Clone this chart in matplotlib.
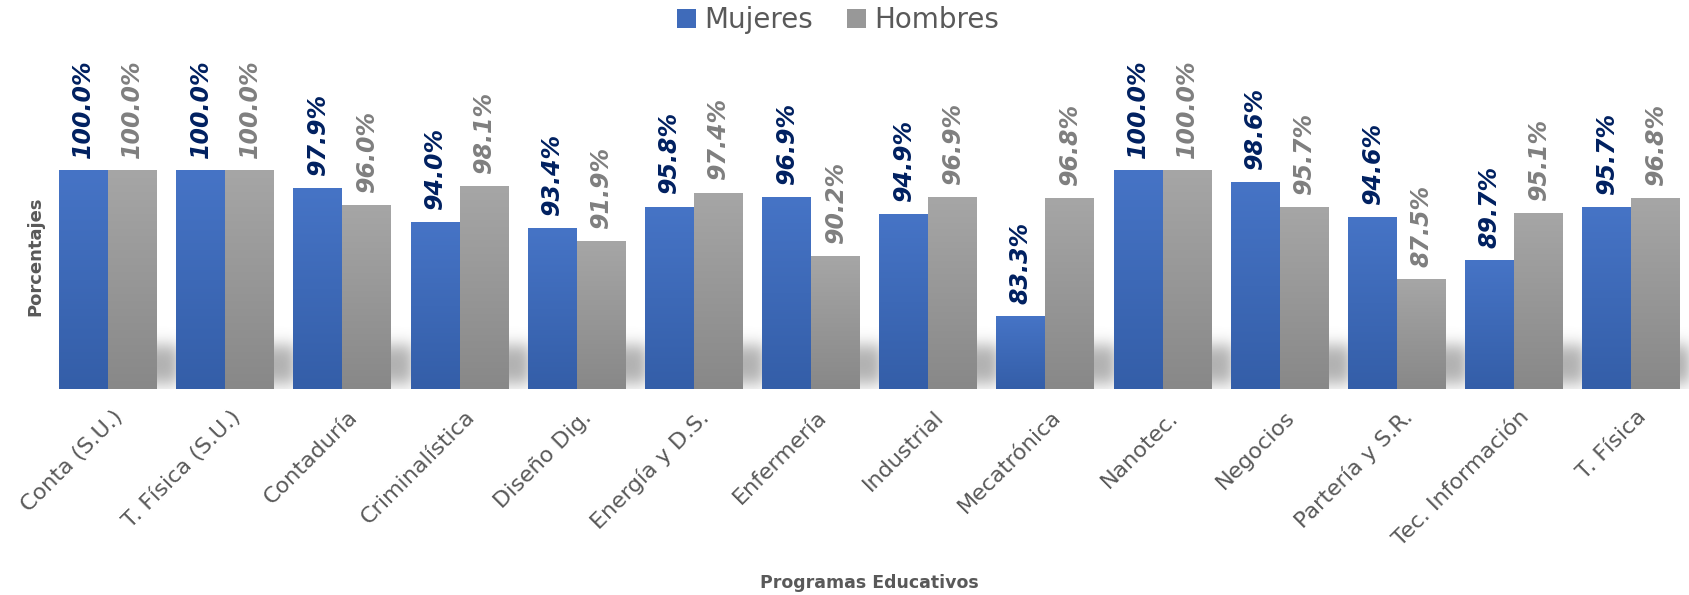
import numpy as np
import matplotlib
matplotlib.use("Agg")
import matplotlib.pyplot as plt
from matplotlib.colors import LinearSegmentedColormap
from matplotlib.patches import Patch
import matplotlib.transforms as mtransforms

# datos del grafico
programas = ['Conta (S.U.)', 'T. Física (S.U.)', 'Contaduría', 'Criminalística',
             'Diseño Dig.', 'Energía y D.S.', 'Enfermería', 'Industrial',
             'Mecatrónica', 'Nanotec.', 'Negocios', 'Partería y S.R.',
             'Tec. Información', 'T. Física']
mujeres = [100.0, 100.0, 97.9, 94.0, 93.4, 95.8, 96.9, 94.9, 83.3, 100.0, 98.6, 94.6, 89.7, 95.7]
hombres = [100.0, 100.0, 96.0, 98.1, 91.9, 97.4, 90.2, 96.9, 96.8, 100.0, 95.7, 87.5, 95.1, 96.8]

ymin, ymax = 75, 115
ancho = 0.418

azul_cmap = LinearSegmentedColormap.from_list('azul', ['#345EA8', '#4674C6'])
gris_cmap = LinearSegmentedColormap.from_list('gris', ['#888888', '#A6A6A6'])

fig = plt.figure(figsize=(16.9, 5.95), dpi=100)
ax = fig.add_axes([0.0292, 1 - 389 / 595, 0.9708, 350 / 595])

x = np.arange(len(programas))

###### sombra difusa debajo de las barras ######
nx, ny = 1400, 200
xs = np.linspace(-0.5, len(programas) - 0.5, nx)
ys = np.linspace(ymin, 83, ny)
mask = np.zeros((ny, nx))
for i in x:
    cx = (xs >= i - 0.32) & (xs <= i + 0.6)
    cy = (ys >= 75.6) & (ys <= 80.0)
    mask[np.ix_(cy, cx)] = 1.0

def kernel(sigma, step):
    n = int(3 * sigma / step) + 1
    t = np.arange(-n, n + 1) * step
    k = np.exp(-0.5 * (t / sigma) ** 2)
    return k / k.sum()

kx = kernel(0.05, xs[1] - xs[0])
ky = kernel(0.9, ys[1] - ys[0])
blur = np.array([np.convolve(r, kx, mode='same') for r in mask])
blur = np.array([np.convolve(c, ky, mode='same') for c in blur.T]).T
sombra = np.zeros((ny, nx, 4))
sombra[..., :3] = 0.45
sombra[..., 3] = blur * 0.55
ax.imshow(sombra, extent=[xs[0], xs[-1], ys[0], ys[-1]], origin='lower',
          aspect='auto', zorder=1, interpolation='bilinear')

###### barras con degradado ######
b1 = ax.bar(x - ancho / 2, [v - ymin for v in mujeres], ancho, bottom=ymin,
            color='#3F6BBA', zorder=2)
b2 = ax.bar(x + ancho / 2, [v - ymin for v in hombres], ancho, bottom=ymin,
            color='#989898', zorder=2)

grad = np.linspace(0, 1, 256).reshape(-1, 1)
for bars, cmap in ((b1, azul_cmap), (b2, gris_cmap)):
    for p in bars:
        x0, y0 = p.get_x(), p.get_y()
        ax.imshow(grad, extent=[x0, x0 + p.get_width(), y0, y0 + p.get_height()],
                  origin='lower', aspect='auto', cmap=cmap, zorder=3,
                  interpolation='bilinear')

###### etiquetas de datos ######
for bars, vals, col in ((b1, mujeres, '#002060'), (b2, hombres, '#7F7F7F')):
    for p, v in zip(bars, vals):
        ax.annotate(f'{v:.1f}%', (p.get_x() + p.get_width() / 2, v),
                    xytext=(0, 9), textcoords='offset points',
                    rotation=90, ha='center', va='bottom',
                    fontsize=17, fontweight='bold', fontstyle='italic',
                    color=col, zorder=4)

ax.set_xlim(-0.5, len(programas) - 0.5)
ax.set_ylim(ymin, ymax)
ax.set_yticks([])
ax.set_xticks(x)
ax.set_xticklabels(programas, rotation=45, ha='right', va='center',
                   rotation_mode='anchor', fontsize=16, color='#595959')
ax.tick_params(axis='x', length=0, pad=18)
offset = mtransforms.ScaledTranslation(12 / 100, 0, fig.dpi_scale_trans)
for lbl in ax.get_xticklabels():
    lbl.set_transform(lbl.get_transform() + offset)
for s in ax.spines.values():
    s.set_visible(False)

fig.text(0.021, 1 - 256 / 595, 'Porcentajes', rotation=90, ha='center', va='center',
         fontsize=13, fontweight='bold', color='#595959')
fig.text(869 / 1690, 1 - 583 / 595, 'Programas Educativos', ha='center', va='center',
         fontsize=12.5, fontweight='bold', color='#595959')

handles = [Patch(facecolor='#3F6BBA', label='Mujeres'),
           Patch(facecolor='#989898', label='Hombres')]
leg = fig.legend(handles=handles, loc='center', bbox_to_anchor=(838 / 1690, 1 - 20 / 595),
                 ncol=2, frameon=False, fontsize=20, handlelength=0.7, handleheight=0.7,
                 handletextpad=0.3, columnspacing=1.2)
for t in leg.get_texts():
    t.set_color('#595959')

plt.savefig('out.png', dpi=100)
